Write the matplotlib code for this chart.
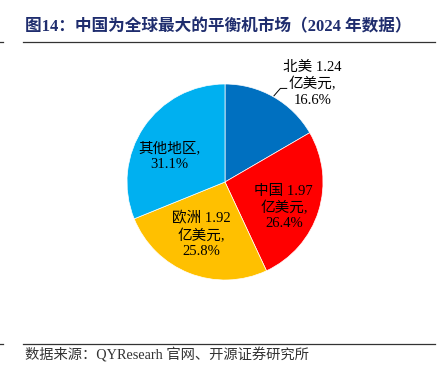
import matplotlib
matplotlib.use("Agg")
import matplotlib.pyplot as plt
import numpy as np

plt.rcParams['font.family'] = ['Liberation Serif', 'Noto Sans CJK SC', 'DejaVu Sans']

regions = ['北美', '中国', '欧洲', '其他地区']
values_usd = [1.24, 1.97, 1.92, None]
shares = [16.6, 26.4, 25.8, 31.1]
colors = ['#0070C0', '#FF0000', '#FFC000', '#00B0F0']
title = '图14：中国为全球最大的平衡机市场（2024 年数据）'
source = '数据来源：QYResearh 官网、开源证券研究所'

W, H = 444, 369
fig = plt.figure(figsize=(W / 100, H / 100), dpi=100)

# pie axes: center (225,182) px, radius 98 px
cx, cy, r = 225, 182, 98
ax = fig.add_axes([(cx - r) / W, (H - cy - r) / H, 2 * r / W, 2 * r / H])
wedges, _ = ax.pie(shares, colors=colors, startangle=90, counterclock=False,
                   radius=1.0, wedgeprops=dict(edgecolor='white', linewidth=0.5))
ax.set_xlim(-1, 1)
ax.set_ylim(-1, 1)
ax.set_aspect('equal')
ax.axis('off')

def label_text(i):
    if values_usd[i] is not None:
        return f'{regions[i]} {values_usd[i]:.2f}\n亿美元,\n{shares[i]:.1f}%'
    return f'{regions[i]},\n{shares[i]:.1f}%'

label_pos = [(0.89, 1.0), (0.60, -0.26), (-0.24, -0.54), (-0.57, 0.26)]
for i, (lx, ly) in enumerate(label_pos):
    ax.text(lx, ly, label_text(i), ha='center', va='center', fontsize=10.5,
            linespacing=1.25, color='black', clip_on=False)

# leader line for 北美
ax.plot([0.50, 0.565, 0.63], [0.88, 0.955, 0.955], color='black', lw=0.7,
        clip_on=False)

# title and rule lines
fig.text(25 / W, 1 - 27 / H, title, fontsize=12, fontweight='bold',
         color='#1F2D6E', ha='left', va='center')
fig.add_artist(plt.Line2D([23 / W, 435 / W], [1 - 41.5 / H, 1 - 41.5 / H],
                          color='#333333', lw=0.9))
fig.add_artist(plt.Line2D([0, 3 / W], [1 - 41.5 / H, 1 - 41.5 / H],
                          color='#333333', lw=0.9))
fig.add_artist(plt.Line2D([23 / W, 435 / W], [1 - 344 / H, 1 - 344 / H],
                          color='#333333', lw=0.9))
fig.add_artist(plt.Line2D([0, 3 / W], [1 - 344 / H, 1 - 344 / H],
                          color='#333333', lw=0.9))
fig.text(25 / W, 1 - 355 / H, source, fontsize=10.3, color='#333333',
         ha='left', va='center')

fig.savefig('out.png', dpi=100)
